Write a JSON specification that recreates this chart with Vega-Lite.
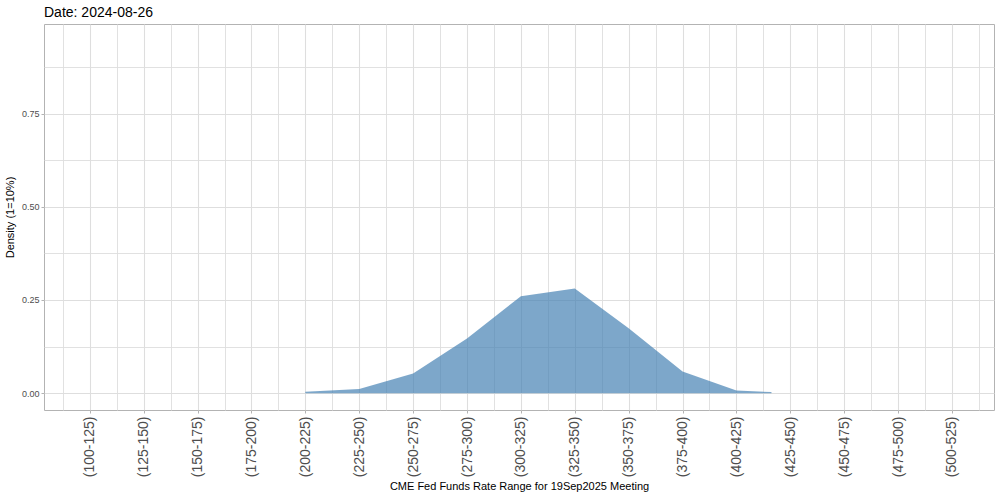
{
  "$schema": "https://vega.github.io/schema/vega-lite/v6.json",
  "autosize": "none",
  "width": 950,
  "height": 386,
  "padding": {"left": 44, "top": 24, "right": 6, "bottom": 90},
  "background": "white",
  "config": {
    "font": "Liberation Sans",
    "view": {"stroke": "#B3B3B3", "strokeWidth": 1}
  },
  "title": {
    "text": "Date: 2024-08-26",
    "anchor": "start",
    "frame": "group",
    "fontSize": 14,
    "fontWeight": "normal",
    "color": "black",
    "offset": 4
  },
  "data": {
    "values": [
      {"pos": 5, "range": "(200-225)", "density": 0.004},
      {"pos": 6, "range": "(225-250)", "density": 0.011},
      {"pos": 7, "range": "(250-275)", "density": 0.053},
      {"pos": 8, "range": "(275-300)", "density": 0.147},
      {"pos": 9, "range": "(300-325)", "density": 0.26},
      {"pos": 10, "range": "(325-350)", "density": 0.281},
      {"pos": 11, "range": "(350-375)", "density": 0.174},
      {"pos": 12, "range": "(375-400)", "density": 0.058},
      {"pos": 13, "range": "(400-425)", "density": 0.007},
      {"pos": 13.65, "range": "", "density": 0.003}
    ]
  },
  "mark": {"type": "area", "color": "steelblue", "opacity": 0.7},
  "encoding": {
    "x": {
      "field": "pos",
      "type": "quantitative",
      "scale": {"domain": [0.15, 17.78], "nice": false, "zero": false},
      "axis": {
        "title": "CME Fed Funds Rate Range for 19Sep2025 Meeting",
        "titleFontSize": 11,
        "titleFontWeight": "normal",
        "titleColor": "black",
        "titlePadding": 4,
        "values": [0.5, 1, 1.5, 2, 2.5, 3, 3.5, 4, 4.5, 5, 5.5, 6, 6.5, 7, 7.5, 8, 8.5, 9, 9.5, 10, 10.5, 11, 11.5, 12, 12.5, 13, 13.5, 14, 14.5, 15, 15.5, 16, 16.5, 17, 17.5],
        "labelExpr": "datum.value % 1 != 0 ? '' : ['(100-125)','(125-150)','(150-175)','(175-200)','(200-225)','(225-250)','(250-275)','(275-300)','(300-325)','(325-350)','(350-375)','(375-400)','(400-425)','(425-450)','(450-475)','(475-500)','(500-525)'][datum.value - 1]",
        "labelAngle": -90,
        "labelFontSize": 14,
        "labelColor": "#4D4D4D",
        "labelPadding": 3,
        "labelOverlap": false,
        "labelBound": false,
        "labelFlush": false,
        "domain": false,
        "ticks": true,
        "tickSize": 3,
        "tickColor": {"condition": {"test": "datum.value % 1 != 0", "value": "transparent"}, "value": "#B3B3B3"},
        "grid": true,
        "gridColor": "#DEDEDE",
        "gridWidth": {"condition": {"test": "datum.value % 1 != 0", "value": 0.9}, "value": 1.1}
      }
    },
    "y": {
      "field": "density",
      "type": "quantitative",
      "scale": {"domain": [-0.045, 0.99], "nice": false, "zero": false},
      "axis": {
        "title": "Density (1=10%)",
        "titleFontSize": 11,
        "titleFontWeight": "normal",
        "titleColor": "black",
        "titlePadding": 6,
        "values": [0, 0.125, 0.25, 0.375, 0.5, 0.625, 0.75, 0.875],
        "labelExpr": "datum.value % 0.25 != 0 ? '' : format(datum.value, '.2f')",
        "labelFontSize": 9,
        "labelColor": "#4D4D4D",
        "labelPadding": 2,
        "domain": false,
        "tickSize": 3,
        "tickColor": {"condition": {"test": "datum.value % 0.25 != 0", "value": "transparent"}, "value": "#B3B3B3"},
        "grid": true,
        "gridColor": "#DEDEDE",
        "gridWidth": {"condition": {"test": "datum.value % 0.25 != 0", "value": 0.9}, "value": 1.1}
      }
    }
  }
}
